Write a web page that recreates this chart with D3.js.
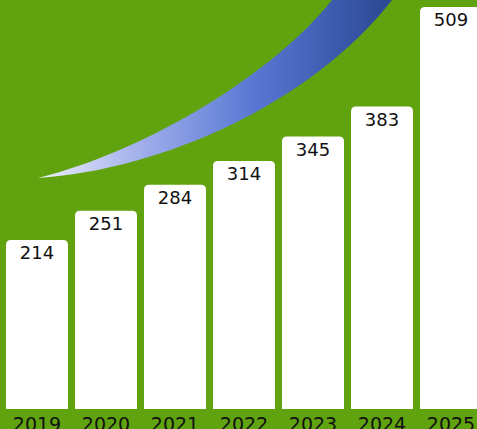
<!DOCTYPE html>
<html><head><meta charset="utf-8">
<script src="https://cdn.jsdelivr.net/npm/d3@7"></script>
<style>html,body{margin:0;padding:0;overflow:hidden;background:#60a30f}</style>
</head><body>
<svg id="c" width="477" height="429"></svg>
<script>
const years = ["2019","2020","2021","2022","2023","2024","2025"];
const values = [214, 251, 284, 314, 345, 383, 509];

const svg = d3.select("#c");
const W = 477, H = 429;
svg.append("rect").attr("width", W).attr("height", H).attr("fill", "#60a30f");

const x = d3.scaleBand().domain(years).range([6, 482]).paddingInner(7/69).paddingOuter(0);
const y = d3.scaleLinear().domain([0, 509]).range([409, 7]);

// decorative swoosh
const defs = svg.append("defs");
const g = defs.append("linearGradient").attr("id", "sw")
  .attr("gradientUnits", "userSpaceOnUse")
  .attr("x1", 38).attr("x2", 398).attr("y1", 0).attr("y2", 0);
g.append("stop").attr("offset", "0%").attr("stop-color", "#eef0fb");
g.append("stop").attr("offset", "30%").attr("stop-color", "#9dacea");
g.append("stop").attr("offset", "60%").attr("stop-color", "#5877d3");
g.append("stop").attr("offset", "100%").attr("stop-color", "#284590");
svg.append("path")
  .attr("d", "M38,178 C150,150 275,72 332,0 L338,-8 L398,-8 L392,0 C310,105 160,170 38,178 Z")
  .attr("fill", "url(#sw)");

const r = 5;
function barPath(x0, y0, w, y1) {
  return `M${x0},${y1} L${x0},${y0 + r} Q${x0},${y0} ${x0 + r},${y0} L${x0 + w - r},${y0} Q${x0 + w},${y0} ${x0 + w},${y0 + r} L${x0 + w},${y1} Z`;
}
const data = years.map((yr, i) => ({ yr, v: values[i] }));

svg.selectAll("path.bar").data(data).join("path")
  .attr("class", "bar")
  .attr("fill", "#ffffff")
  .attr("d", d => barPath(x(d.yr), y(d.v), x.bandwidth(), y(0)));

svg.selectAll("text.val").data(data).join("text")
  .attr("class", "val")
  .attr("x", d => x(d.yr) + x.bandwidth() / 2)
  .attr("y", d => y(d.v) + 19)
  .attr("text-anchor", "middle")
  .attr("font-family", "DejaVu Sans")
  .attr("font-size", 18)
  .attr("fill", "#111")
  .text(d => d.v);

svg.selectAll("text.yr").data(data).join("text")
  .attr("class", "yr")
  .attr("x", d => x(d.yr) + x.bandwidth() / 2)
  .attr("y", 431)
  .attr("text-anchor", "middle")
  .attr("font-family", "DejaVu Sans")
  .attr("font-size", 19)
  .attr("fill", "#111")
  .text(d => d.yr);
</script>
</body></html>
